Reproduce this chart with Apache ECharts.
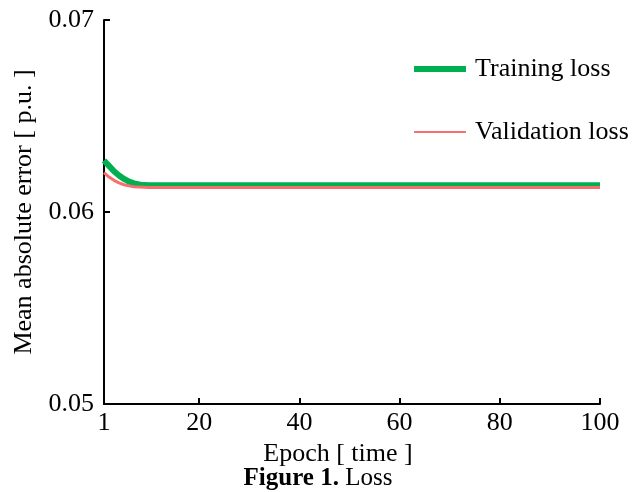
<!DOCTYPE html>
<html>
<head>
<meta charset="utf-8">
<script src="https://cdn.jsdelivr.net/npm/echarts@6/dist/echarts.min.js"></script>
<style>
  html, body { margin: 0; padding: 0; background: #fff; }
  #chart { width: 636px; height: 492px; }
</style>
</head>
<body>
<div id="chart"></div>
<script>
// ---- data ----
const xTickValues = [1, 20, 40, 60, 80, 100];
const yTickLabels = ['0.05', '0.06', '0.07'];
const seriesNames = ['Training loss', 'Validation loss'];

const trainingLoss = [
  0.06268, 0.06240, 0.06212, 0.06190, 0.06172, 0.06158, 0.06149, 0.06143, 0.06140, 0.06139,
  0.06139, 0.06139, 0.06139, 0.06139, 0.06139, 0.06139, 0.06139, 0.06139, 0.06139, 0.06139,
  0.06139, 0.06139, 0.06139, 0.06139, 0.06139, 0.06139, 0.06139, 0.06139, 0.06139, 0.06139,
  0.06139, 0.06139, 0.06139, 0.06139, 0.06139, 0.06139, 0.06139, 0.06139, 0.06139, 0.06139,
  0.06139, 0.06139, 0.06139, 0.06139, 0.06139, 0.06139, 0.06139, 0.06139, 0.06139, 0.06139,
  0.06139, 0.06139, 0.06139, 0.06139, 0.06139, 0.06139, 0.06139, 0.06139, 0.06139, 0.06139,
  0.06139, 0.06139, 0.06139, 0.06139, 0.06139, 0.06139, 0.06139, 0.06139, 0.06139, 0.06139,
  0.06139, 0.06139, 0.06139, 0.06139, 0.06139, 0.06139, 0.06139, 0.06139, 0.06139, 0.06139,
  0.06139, 0.06139, 0.06139, 0.06139, 0.06139, 0.06139, 0.06139, 0.06139, 0.06139, 0.06139,
  0.06139, 0.06139, 0.06139, 0.06139, 0.06139, 0.06139, 0.06139, 0.06139, 0.06139, 0.06139
];

const validationLoss = [
  0.06205, 0.06182, 0.06165, 0.06152, 0.06142, 0.06136, 0.06132, 0.06130, 0.06129, 0.06128,
  0.06128, 0.06128, 0.06128, 0.06128, 0.06128, 0.06128, 0.06128, 0.06128, 0.06128, 0.06128,
  0.06128, 0.06128, 0.06128, 0.06128, 0.06128, 0.06128, 0.06128, 0.06128, 0.06128, 0.06128,
  0.06128, 0.06128, 0.06128, 0.06128, 0.06128, 0.06128, 0.06128, 0.06128, 0.06128, 0.06128,
  0.06128, 0.06128, 0.06128, 0.06128, 0.06128, 0.06128, 0.06128, 0.06128, 0.06128, 0.06128,
  0.06128, 0.06128, 0.06128, 0.06128, 0.06128, 0.06128, 0.06128, 0.06128, 0.06128, 0.06128,
  0.06128, 0.06128, 0.06128, 0.06128, 0.06128, 0.06128, 0.06128, 0.06128, 0.06128, 0.06128,
  0.06128, 0.06128, 0.06128, 0.06128, 0.06128, 0.06128, 0.06128, 0.06128, 0.06128, 0.06128,
  0.06128, 0.06128, 0.06128, 0.06128, 0.06128, 0.06128, 0.06128, 0.06128, 0.06128, 0.06128,
  0.06128, 0.06128, 0.06128, 0.06128, 0.06128, 0.06128, 0.06128, 0.06128, 0.06128, 0.06128
];

const epochs = trainingLoss.map((_, i) => i + 1);

// ---- chart ----
const FONT = 'Liberation Serif';
const chart = echarts.init(document.getElementById('chart'), null, { renderer: 'canvas' });

chart.setOption({
  animation: false,
  backgroundColor: '#ffffff',
  textStyle: { fontFamily: FONT, color: '#000' },
  title: {
    text: '{b|Figure 1.}{n| Loss}',
    left: 'center',
    top: 461,
    textStyle: {
      rich: {
        b: { fontFamily: FONT, fontWeight: 'bold', fontSize: 25, color: '#000' },
        n: { fontFamily: FONT, fontWeight: 'normal', fontSize: 25, color: '#000' }
      }
    }
  },
  legend: [
    {
      data: [seriesNames[0]],
      left: 409,
      top: 51,
      icon: 'rect',
      itemWidth: 52,
      itemHeight: 6,
      textStyle: { fontFamily: FONT, fontSize: 26, color: '#000', padding: [0, 0, 0, 4] },
      selectedMode: false
    },
    {
      data: [seriesNames[1]],
      left: 409,
      top: 114,
      icon: 'rect',
      itemWidth: 52,
      itemHeight: 2,
      textStyle: { fontFamily: FONT, fontSize: 26, color: '#000', padding: [0, 0, 0, 4] },
      selectedMode: false
    }
  ],
  grid: { left: 104, right: 36, top: 20, bottom: 88, containLabel: false },
  xAxis: {
    type: 'value',
    min: 1,
    max: 100,
    name: 'Epoch [ time ]',
    nameLocation: 'middle',
    nameGap: 34,
    nameTextStyle: { fontFamily: FONT, fontSize: 26, color: '#000', padding: [0, 28, 0, 0] },
    axisLine: { show: true, onZero: false, lineStyle: { color: '#000', width: 2 } },
    axisTick: { show: true, inside: true, length: 6, customValues: xTickValues, lineStyle: { color: '#000', width: 2 } },
    axisLabel: { customValues: xTickValues, fontFamily: FONT, fontSize: 26, color: '#000', margin: 6 },
    splitLine: { show: false }
  },
  yAxis: {
    type: 'value',
    min: 0.05,
    max: 0.07,
    interval: 0.01,
    name: 'Mean absolute error [ p.u. ]',
    nameLocation: 'middle',
    nameGap: 54,
    nameTextStyle: { fontFamily: FONT, fontSize: 26, color: '#000' },
    axisLine: { show: true, lineStyle: { color: '#000', width: 2 } },
    axisTick: { show: true, inside: true, length: 6, lineStyle: { color: '#000', width: 2 } },
    axisLabel: {
      fontFamily: FONT, fontSize: 26, color: '#000', margin: 10,
      formatter: function (v) {
        const idx = Math.round((v - 0.05) / 0.01);
        return yTickLabels[idx] !== undefined ? yTickLabels[idx] : v.toFixed(2);
      }
    },
    splitLine: { show: false }
  },
  series: [
    {
      name: seriesNames[0],
      type: 'line',
      data: epochs.map((e, i) => [e, trainingLoss[i]]),
      showSymbol: false,
      color: '#00b050',
      lineStyle: { color: '#00b050', width: 6 },
      z: 2
    },
    {
      name: seriesNames[1],
      type: 'line',
      data: epochs.map((e, i) => [e, validationLoss[i]]),
      showSymbol: false,
      color: '#f86d6d',
      lineStyle: { color: '#f86d6d', width: 3 },
      z: 3
    }
  ]
});
</script>
</body>
</html>
